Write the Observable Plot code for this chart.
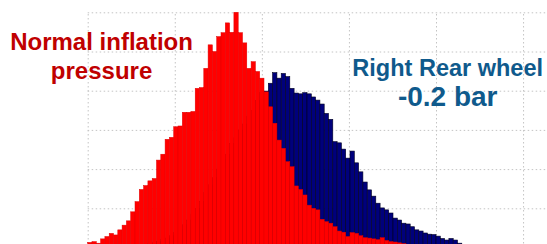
<!DOCTYPE html>
<html>
<head>
<meta charset="utf-8">
<script src="https://cdn.jsdelivr.net/npm/d3@7"></script>
<script src="https://cdn.jsdelivr.net/npm/@observablehq/plot@0.6"></script>
<style>
  html, body { margin: 0; padding: 0; background: #fff; }
  #chart { width: 547px; height: 244px; overflow: hidden; }
</style>
</head>
<body>
<div id="chart"></div>
<script>
// Histogram bin counts (bin index = position along x, one bar per bin)
const normalCounts = [
  13, 15, 11, 22, 28, 36, 32, 45, 57, 68,
  91, 117, 148, 158, 170, 176, 223, 238, 276, 281,
  308, 310, 345, 345, 347, 406, 408, 457, 517, 500,
  538, 548, 573, 549, 600, 548, 522, 457, 474, 449,
  432, 397, 359, 317, 274, 253, 219, 206, 157, 148,
  134, 108, 100, 96, 72, 66, 62, 53, 42, 39,
  28, 38, 36, 30, 25, 24, 22, 20, 25, 18,
  15, 14, 12, 10, 8, 6, 5, 4, 3, 2, 2, 1
];
const rearCounts = [
  0, 0, 0, 0, 0, 0, 0, 0, 0, 0,
  3, 5, 4, 8, 10, 12, 15, 20, 24, 30,
  38, 46, 58, 70, 85, 100, 118, 140, 160, 178,
  200, 225, 238, 265, 280, 300, 315, 335, 350, 375,
  395, 399, 419, 446, 432, 444, 436, 406, 394, 392,
  395, 392, 384, 376, 366, 342, 327, 270, 267, 251,
  228, 246, 216, 193, 167, 147, 131, 113, 101, 96,
  88, 75, 70, 62, 60, 53, 45, 42, 37, 34,
  33, 29, 23, 19, 23, 19, 11
];
const xGridTicks = [0, 20.25, 40.5, 60.75, 81, 101.25];
const yGridTicks = [100, 200, 300, 400, 500, 600];
const normalLabel = ["Normal inflation", "pressure"];
const rearLabel = ["Right Rear wheel", "-0.2 bar"];

const toBins = counts => counts.map((v, i) => ({x1: i, x2: i + 1, v}));
const normalBins = toBins(normalCounts);
const rearBins = toBins(rearCounts);

const font = "'Liberation Sans', Arial, Helvetica, sans-serif";

const chart = Plot.plot({
  width: 547,
  height: 244,
  marginLeft: 88,
  marginRight: 0,
  marginTop: 0,
  marginBottom: 0,
  style: {background: "#fff", fontFamily: font},
  x: {domain: [0, 107], range: [87.7, 547.8], axis: null},
  y: {domain: [0, 600], range: [247.5, 12.3], axis: null},
  marks: [
    Plot.ruleX(xGridTicks, {x: d => d, y1: 0, y2: 600, stroke: "#c4c4c4", strokeWidth: 1, strokeDasharray: "1.5,2.5"}),
    Plot.ruleY(yGridTicks, {y: d => d, x1: 0, x2: 107, stroke: "#c4c4c4", strokeWidth: 1, strokeDasharray: "1.5,2.5"}),
    Plot.rectY(rearBins, {x1: "x1", x2: "x2", y1: 0, y2: "v", fill: "#00007c", stroke: "#000020", strokeWidth: 0.6}),
    Plot.rectY(normalBins, {x1: "x1", x2: "x2", y1: 0, y2: "v", fill: "#ff0000", stroke: "#e00000", strokeWidth: 0.5}),
    Plot.text([normalLabel[0]], {x: 3.1, y: 504, text: d => d, fill: "#c00000", fontSize: 24, fontWeight: "bold", textAnchor: "middle", lineAnchor: "bottom", fontFamily: font}),
    Plot.text([normalLabel[1]], {x: 3.1, y: 432, text: d => d, fill: "#c00000", fontSize: 24, fontWeight: "bold", textAnchor: "middle", lineAnchor: "bottom", fontFamily: font}),
    Plot.text([rearLabel[0]], {x: 83.6, y: 440, text: d => d, fill: "#0f5a8c", fontSize: 23.5, fontWeight: "bold", textAnchor: "middle", lineAnchor: "bottom", fontFamily: font}),
    Plot.text([rearLabel[1]], {x: 83.6, y: 361, text: d => d, fill: "#0f5a8c", fontSize: 28, fontWeight: "bold", textAnchor: "middle", lineAnchor: "bottom", fontFamily: font})
  ]
});
document.getElementById("chart").appendChild(chart);
</script>
</body>
</html>
